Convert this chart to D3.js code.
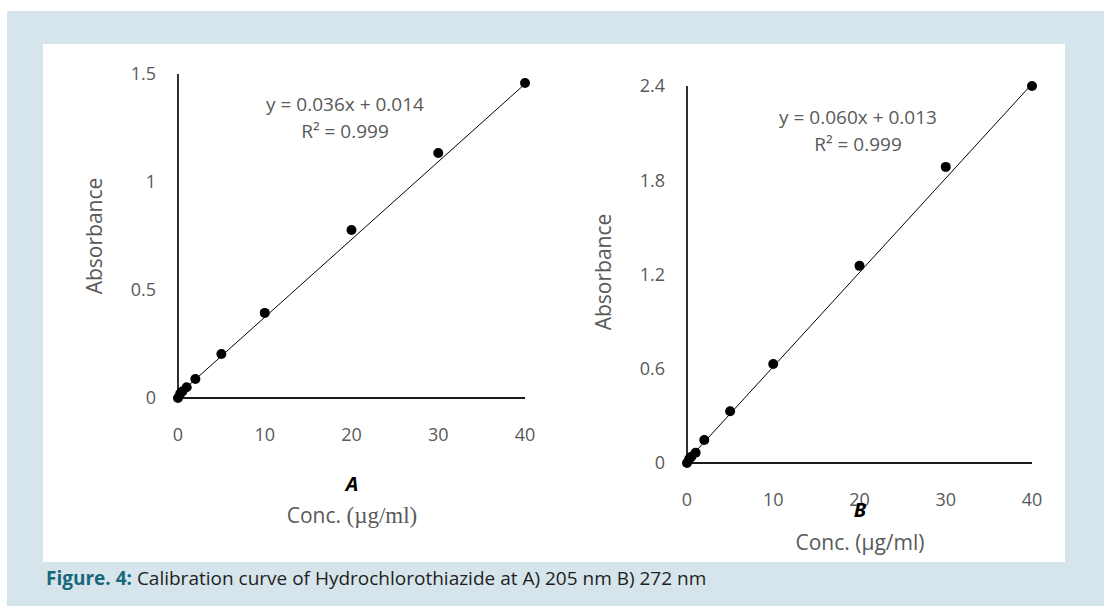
<!DOCTYPE html>
<html>
<head>
<meta charset="utf-8">
<script src="https://cdn.jsdelivr.net/npm/d3@7"></script>
<style>
  body { margin: 0; background: #fff; }
  svg text { font-family: "Open Sans", sans-serif; }
</style>
</head>
<body>
<svg id="fig" width="1104" height="606"></svg>
<script>
// concentrations (µg/ml) and absorbances
const concA = [0, 0.25, 0.5, 1, 2, 5, 10, 20, 30, 40];
const absA = [0.0, 0.02, 0.03, 0.05, 0.088, 0.204, 0.394, 0.778, 1.134, 1.458];
const concB = [0, 0.25, 0.5, 1, 2, 5, 10, 20, 30, 40];
const absB = [0.0, 0.025, 0.04, 0.065, 0.146, 0.33, 0.63, 1.255, 1.885, 2.40];

const xTicks = [0, 10, 20, 30, 40];
const yTicksA = [0, 0.5, 1, 1.5];
const yTicksB = [0, 0.6, 1.2, 1.8, 2.4];

const fitA = { slope: 0.036, icpt: 0.014, label: "y = 0.036x + 0.014", r2: "R² = 0.999" };
const fitB = { slope: 0.060, icpt: 0.013, label: "y = 0.060x + 0.013", r2: "R² = 0.999" };

const svg = d3.select("#fig");
const grey = "#595959";

// background frame
svg.append("rect").attr("x", 7).attr("y", 11).attr("width", 1097).attr("height", 595).attr("fill", "#d6e4ec");
svg.append("rect").attr("x", 43).attr("y", 44).attr("width", 1022).attr("height", 518).attr("fill", "#fff");

function drawPanel(cfg) {
    let x = d3.scaleLinear().domain([0, 40]).range([cfg.left, cfg.right]);
    let y = d3.scaleLinear().domain([0, cfg.ymax]).range([cfg.bottom, cfg.top]);
    let g = svg.append("g");

    // axis lines
    g.append("line").attr("x1", x(0)).attr("x2", x(0)).attr("y1", y(0)).attr("y2", y(cfg.ymax))
        .attr("stroke", "#1a1a1a").attr("stroke-width", 1.8);
    g.append("line").attr("x1", x(0)).attr("x2", x(40)).attr("y1", y(0)).attr("y2", y(0))
        .attr("stroke", "#1a1a1a").attr("stroke-width", 1.8);

    // tick labels
    g.selectAll(".yt").data(cfg.yTicks).join("text")
        .attr("x", x(0) - 22).attr("y", d => y(d)).attr("dy", "0.35em")
        .attr("text-anchor", "end").attr("font-size", 18).attr("fill", grey)
        .text(d => d);
    g.selectAll(".xt").data(xTicks).join("text")
        .attr("x", d => x(d)).attr("y", cfg.xLabelY).attr("dy", "0.35em")
        .attr("text-anchor", "middle").attr("font-size", 18).attr("fill", grey)
        .text(d => d);

    // trendline
    g.append("line")
        .attr("x1", x(0)).attr("y1", y(cfg.fit.icpt))
        .attr("x2", x(40)).attr("y2", y(cfg.fit.icpt + cfg.fit.slope * 40))
        .attr("stroke", "#000").attr("stroke-width", 1);

    // points
    g.selectAll("circle").data(cfg.conc).join("circle")
        .attr("cx", d => x(d)).attr("cy", (d, i) => y(cfg.abs[i]))
        .attr("r", 5).attr("fill", "#000");

    // equation
    g.append("text").attr("x", cfg.eqX).attr("y", cfg.eqY).attr("dy", "0.35em")
        .attr("text-anchor", "middle").attr("font-size", 19).attr("fill", grey).text(cfg.fit.label);
    g.append("text").attr("x", cfg.eqX).attr("y", cfg.eqY + 27).attr("dy", "0.35em")
        .attr("text-anchor", "middle").attr("font-size", 19).attr("fill", grey).text(cfg.fit.r2);

    // y title
    g.append("text").attr("transform", `translate(${cfg.yTitleX},${cfg.yTitleY}) rotate(-90)`)
        .attr("dy", "0.35em").attr("text-anchor", "middle").attr("font-size", 21).attr("fill", grey)
        .text("Absorbance");

    // panel letter
    g.append("text").attr("x", cfg.letterX).attr("y", cfg.letterY).attr("dy", "0.35em")
        .attr("text-anchor", "middle").attr("font-size", 20).attr("font-weight", "bold")
        .attr("font-style", "italic").attr("fill", "#000").text(cfg.letter);

    // x title
    let t = g.append("text").attr("x", cfg.letterX).attr("y", cfg.xTitleY).attr("dy", "0.35em")
        .attr("text-anchor", "middle").attr("font-size", 21).attr("fill", grey);
    t.append("tspan").text("Conc. ");
    t.append("tspan").attr("font-family", cfg.serif ? "Liberation Serif, serif" : null)
        .attr("font-size", cfg.serif ? 23 : null).text("(µg/ml)");
}

drawPanel({
    left: 178, right: 525, top: 74, bottom: 398, ymax: 1.5,
    yTicks: yTicksA, conc: concA, abs: absA, fit: fitA,
    xLabelY: 435, eqX: 345, eqY: 104, yTitleX: 95, yTitleY: 236,
    letter: "A", letterX: 352, letterY: 484, xTitleY: 516, serif: true
});

drawPanel({
    left: 687, right: 1032, top: 86, bottom: 463, ymax: 2.4,
    yTicks: yTicksB, conc: concB, abs: absB, fit: fitB,
    xLabelY: 500, eqX: 858, eqY: 117, yTitleX: 604, yTitleY: 272,
    letter: "B", letterX: 860, letterY: 510, xTitleY: 543, serif: false
});

// caption
let cap = svg.append("text").attr("x", 46).attr("y", 578).attr("dy", "0.35em")
    .attr("font-family", "'Liberation Sans Narrow', 'Open Sans', sans-serif")
    .attr("font-size", 19).attr("fill", "#231f20");
cap.append("tspan").attr("font-weight", "bold").attr("fill", "#16687a").text("Figure. 4: ");
cap.append("tspan").text("Calibration curve of Hydrochlorothiazide at A) 205 nm B) 272 nm");
</script>
</body>
</html>
